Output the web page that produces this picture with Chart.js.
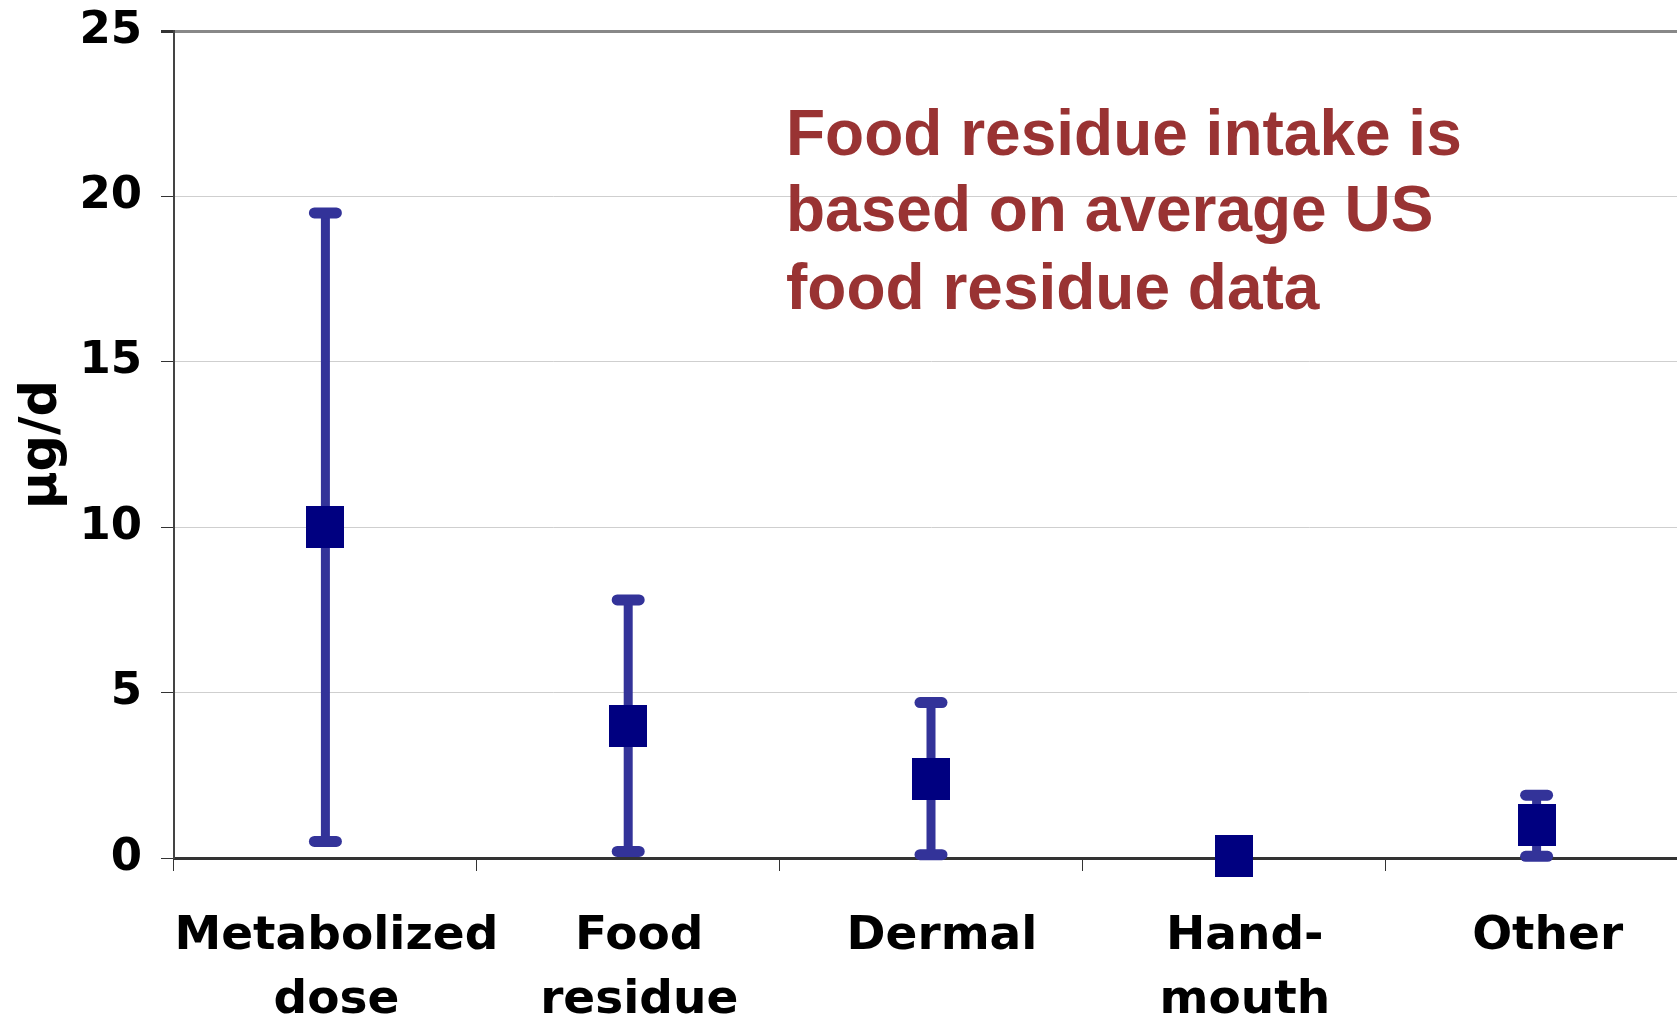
<!DOCTYPE html>
<html>
<head>
<meta charset="utf-8">
<script src="https://cdn.jsdelivr.net/npm/chart.js@4"></script>
<style>
  html, body { margin: 0; padding: 0; background: #fff; overflow: hidden; }
</style>
</head>
<body>
<canvas id="grafico" width="1710" height="1020"></canvas>
<script>
// intake sources and their estimates (µg/d)
const categorias = [['Metabolized', 'dose'], ['Food', 'residue'], ['Dermal'], ['Hand-', 'mouth'], ['Other']]
const medias = [10, 4, 2.4, 0.05, 1.0]
const minimos = [0.5, 0.2, 0.1, null, 0.05]
const maximos = [19.5, 7.8, 4.7, null, 1.9]
const ticksY = [0, 5, 10, 15, 20, 25]

const nota = ['Food residue intake is', 'based on average US', 'food residue data']

// square marker, a bit taller than wide
const marcador = document.createElement('canvas')
marcador.width = 38
marcador.height = 42
const mctx = marcador.getContext('2d')
mctx.fillStyle = '#000080'
mctx.fillRect(0, 0, 38, 42)

// error bars drawn under the markers
const barrasErro = {
  id: 'barrasErro',
  beforeDatasetsDraw(chart) {
    const ctx = chart.ctx
    const x = chart.scales.x
    const y = chart.scales.y
    ctx.save()
    ctx.strokeStyle = '#333399'
    for (let i = 0; i < medias.length; i++) {
      if (minimos[i] == null || maximos[i] == null) continue
      const px = x.getPixelForValue(i)
      const yLo = y.getPixelForValue(minimos[i])
      const yHi = y.getPixelForValue(maximos[i])
      ctx.lineCap = 'butt'
      ctx.lineWidth = 9
      ctx.beginPath()
      ctx.moveTo(px, yHi)
      ctx.lineTo(px, yLo)
      ctx.stroke()
      ctx.lineCap = 'round'
      ctx.lineWidth = 11
      for (const py of [yLo, yHi]) {
        ctx.beginPath()
        ctx.moveTo(px - 11, py)
        ctx.lineTo(px + 11, py)
        ctx.stroke()
      }
    }
    ctx.restore()
  }
}

// text note in the upper right
const textoNota = {
  id: 'textoNota',
  afterDraw(chart) {
    const ctx = chart.ctx
    ctx.save()
    ctx.fillStyle = '#993333'
    ctx.font = 'bold 64px "Liberation Sans", Arial, sans-serif'
    ctx.textAlign = 'left'
    ctx.textBaseline = 'alphabetic'
    const linhas = [155, 231, 309]
    nota.forEach((t, i) => ctx.fillText(t, 786, linhas[i]))
    ctx.restore()
  }
}

const ctx = document.getElementById('grafico').getContext('2d')
const meuGrafico = new Chart(ctx, {
  type: 'line',
  data: {
    labels: categorias,
    datasets: [{
      label: 'µg/d',
      data: medias,
      showLine: false,
      pointStyle: marcador,
      pointRadius: 21,
      pointHoverRadius: 21,
      clip: false
    }]
  },
  plugins: [barrasErro, textoNota],
  options: {
    responsive: false,
    animation: false,
    devicePixelRatio: 1,
    layout: { padding: { top: 31, right: 11, left: 0, bottom: 0 } },
    scales: {
      x: {
        offset: true,
        afterFit(scale) { scale.height = 162 },
        grid: {
          offset: true,
          drawOnChartArea: false,
          drawTicks: true,
          tickLength: 13,
          color: '#333'
        },
        border: { display: true, color: '#333', width: 3 },
        ticks: {
          color: '#000',
          font: { family: '"DejaVu Sans", Verdana, sans-serif', weight: 'bold', size: 47, lineHeight: 1.36 },
          padding: 34,
          labelOffset: 11,
          maxRotation: 0,
          autoSkip: false
        }
      },
      y: {
        min: 0,
        max: 25,
        afterFit(scale) {
          scale.width = 174
          scale.paddingTop = 0
          scale.paddingBottom = 0
        },
        afterBuildTicks(scale) { scale.ticks = ticksY.map(v => ({ value: v })) },
        grid: {
          color: c => c.tick.value === 25 ? '#888' : (c.tick.value === 0 ? '#333' : '#cfcfcf'),
          lineWidth: c => c.tick.value === 25 ? 3 : 1,
          tickColor: '#333',
          tickLength: 13
        },
        border: { display: true, color: '#444', width: 2 },
        ticks: {
          color: '#000',
          font: { family: '"DejaVu Sans", Verdana, sans-serif', weight: 'bold', size: 45 },
          padding: 19
        },
        title: {
          display: true,
          text: 'µg/d',
          color: '#000',
          font: { family: '"DejaVu Sans", Verdana, sans-serif', weight: 'bold', size: 51 },
          padding: { top: 12, bottom: 0 }
        }
      }
    },
    plugins: {
      legend: { display: false },
      tooltip: { enabled: false }
    }
  }
})
</script>
</body>
</html>
